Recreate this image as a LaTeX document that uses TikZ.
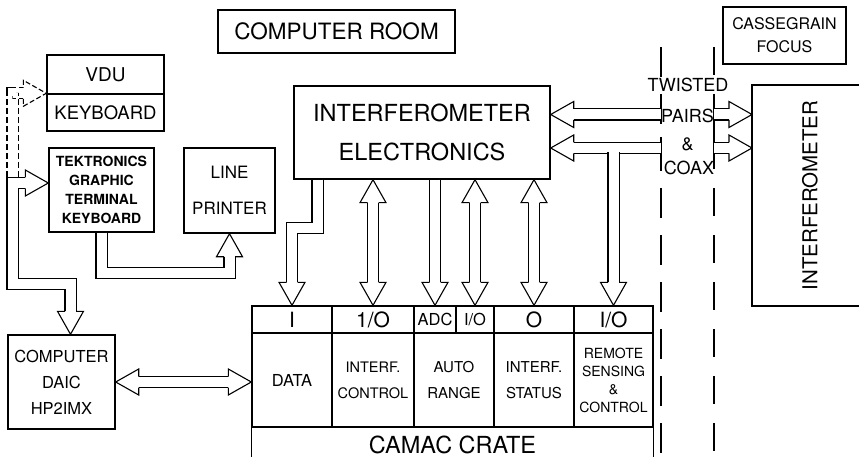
\documentclass[tikz,border=0pt]{standalone}
\usepackage{fontspec}
\setmainfont{TeX Gyre Heros}
\usetikzlibrary{calc}

\newcommand{\fsz}[2]{\fontsize{#1}{#2}\selectfont}

\tikzset{
  box/.style={draw, line width=1.4pt, inner sep=0pt, align=center},
  bus/.style={double, double distance=10pt, line width=1.1pt},
  wall/.style={line width=1.2pt, dash pattern=on 30pt off 17pt},
  pics/hd/.style={code={
    \draw[line width=1.1pt, fill=white] (-23,5.5) -- (-23,13) -- (0,0) -- (-23,-13) -- (-23,-5.5);}},
}

\begin{document}
\begin{tikzpicture}[x=1pt,y=-1pt]
\useasboundingbox (0,0) rectangle (859,457);

% ---------------- COMPUTER ROOM ----------------
\node[box, minimum width=237pt, minimum height=43pt, font=\fsz{22.5}{26}] (room) at (336.5,31.5) {COMPUTER ROOM};

\node[box, minimum width=117pt, minimum height=39pt, font=\fsz{19}{23}] (vdu) at (105.5,74.5) {VDU};
\node[box, minimum width=117pt, minimum height=37pt, font=\fsz{18.5}{22}] (kbd) at (105.5,112.5) {KEYBOARD};
\node[box, minimum width=105pt, minimum height=84pt, font=\bfseries\fsz{14}{19}] (tek) at (101.5,190) {TEKTRONICS\\GRAPHIC\\TERMINAL\\KEYBOARD};
\node[box, minimum width=91pt, minimum height=85pt, font=\fsz{17}{36}] (lp) at (229.5,190.5) {LINE\\PRINTER};
\node[box, minimum width=107pt, minimum height=94pt, font=\fsz{16.5}{26}] (comp) at (61.5,382) {COMPUTER\\DAIC\\HP2IMX};
\node[box, minimum width=256pt, minimum height=93pt, font=\fsz{23.5}{39}] (ie) at (422,132.5) {INTERFEROMETER\\ELECTRONICS};

% ---------------- CAMAC CRATE ----------------
% header row
\node[box, minimum width=80pt, minimum height=27pt, font=\fsz{21}{24}] (hI) at (292,319.5) {I};
\node[box, minimum width=82pt, minimum height=27pt, font=\fsz{21}{24}] (hIOa) at (373,319.5) {1/O};
\node[box, minimum width=42pt, minimum height=27pt, font=\fsz{16.5}{18}] (hADC) at (435,319.5) {ADC};
\node[box, minimum width=38pt, minimum height=27pt, font=\fsz{16.5}{18}] (hIOb) at (475,319.5) {I/O};
\node[box, minimum width=80pt, minimum height=27pt, font=\fsz{21}{24}] (hO) at (534,319.5) {O};
\node[box, minimum width=79pt, minimum height=27pt, font=\fsz{21}{24}] (hIOc) at (613.5,319.5) {I/O};

% module row
\node[box, minimum width=80pt, minimum height=94pt, font=\fsz{16.5}{20}] (bdata) at (292,380) {DATA};
\node[box, minimum width=82pt, minimum height=94pt, font=\fsz{14.5}{26}] (bctl) at (373,380) {INTERF.\\CONTROL};
\node[box, minimum width=80pt, minimum height=94pt, font=\fsz{15}{26}] (bauto) at (454,380) {AUTO\\RANGE};
\node[box, minimum width=80pt, minimum height=94pt, font=\fsz{15}{26}] (bstat) at (534,380) {INTERF.\\STATUS};
\node[box, minimum width=79pt, minimum height=94pt, font=\fsz{14}{18}] (brem) at (613.5,380) {REMOTE\\SENSING\\\&\\CONTROL};

\draw[line width=1.4pt] (bdata.south west) -- ++(0,30);
\draw[line width=1.4pt] (brem.south east) -- ++(0,30);
\node[font=\fsz{23.5}{28}] (crate) at (452.5,445) {CAMAC CRATE};

% ---------------- TELESCOPE SIDE ----------------
\node[box, minimum width=123pt, minimum height=57pt, font=\fsz{16}{23}] (cass) at (784.5,35.5) {CASSEGRAIN\\FOCUS};

\coordinate (intfnw) at (752,85);
\coordinate (intfsw) at (752,306);
\draw[line width=1.4pt] (859,85) -- (intfnw) -- (intfsw) -- (859,306);
\node[rotate=90, font=\fsz{20.5}{24}] (intf) at (810,195.5) {INTERFEROMETER};

% dashed walls
\draw[wall] (661,47) -- (661,457);
\draw[wall, dash pattern=on 28pt off 19pt] (714,47) -- (714,457);
\draw[line width=1.2pt] (661,137) -- (661,154);
\draw[line width=1.2pt] (714,97) -- (714,154);

\node[font=\fsz{18}{22}] (tw) at (688,85) {TWISTED};
\node[font=\fsz{18}{22}] (pairs) at (687.5,116) {PAIRS};
\node[font=\fsz{18}{22}] (amp) at (687.5,144) {\&};
\node[font=\fsz{18}{22}] (coax) at (689,168) {COAX};

% ---------------- CABLES TO THE INTERFEROMETER ----------------
\coordinate (pr) at (752,114.5);
\coordinate (cr) at (752,148);

\draw[bus] ($(ie.east |- pr)+(23,0)$) -- (661,114.5);
\draw[bus] (714,114.5) -- ($(pr)+(-23,0)$);
\draw[bus] ($(ie.east |- cr)+(23,0)$) -- (661,148);
\draw[bus] (714,148) -- ($(cr)+(-23,0)$);
\pic[rotate=180] at (ie.east |- pr) {hd};
\pic at (pr) {hd};
\pic[rotate=180] at (ie.east |- cr) {hd};
\pic at (cr) {hd};

% coax branch down to remote sensing
\draw[bus] ($(hIOc.north)+(0,-153)$) -- ($(hIOc.north)+(0,-23)$);
\fill[white] ($(hIOc.north)+(-4.9,-156)$) rectangle ($(hIOc.north)+(4.9,-150)$);
\pic[rotate=-90] at (hIOc.north) {hd};

% ---------------- ELECTRONICS TO CRATE ----------------
\draw[bus] ([xshift=-104.5pt]ie.south) |- ($(hI.north)+(0,-77.5)$) -- ($(hI.north)+(0,-23)$);
\pic[rotate=-90] at (hI.north) {hd};

\draw[bus] ($(ie.south -| hIOa.north)+(0,23)$) -- ($(hIOa.north)+(0,-23)$);
\pic[rotate=90] at (ie.south -| hIOa.north) {hd};
\pic[rotate=-90] at (hIOa.north) {hd};

\draw[bus] (ie.south -| hADC.north) -- ($(hADC.north)+(0,-23)$);
\pic[rotate=-90] at (hADC.north) {hd};

\draw[bus] ($(ie.south -| hIOb.north)+(0,23)$) -- ($(hIOb.north)+(0,-23)$);
\pic[rotate=90] at (ie.south -| hIOb.north) {hd};
\pic[rotate=-90] at (hIOb.north) {hd};

\draw[bus] ($(ie.south -| hO.north)+(0,23)$) -- ($(hO.north)+(0,-23)$);
\pic[rotate=90] at (ie.south -| hO.north) {hd};
\pic[rotate=-90] at (hO.north) {hd};

% ---------------- TERMINALS ----------------
\coordinate (tekin) at ($(tek.west)+(0,-7)$);
\coordinate (compin) at ($(comp.north)+(9,0)$);

% dashed link to the VDU
\draw[bus, dash pattern=on 6pt off 3pt] (12.5,177) |- ($(kbd.north west)+(-23,0)$);
\pic[dash pattern=on 5pt off 2.5pt] at (kbd.north west) {hd};

\draw[bus] ($(compin)+(0,-23)$) |- (12.5,284) |- ($(tekin)+(-23,0)$);
\pic[rotate=-90] at (compin) {hd};
\pic at (tekin) {hd};

\draw[bus] (tek.south) |- ($(lp.south)+(0,39)$) -- ($(lp.south)+(0,23)$);
\pic[rotate=90] at (lp.south) {hd};

\draw[bus] ($(comp.east)+(23,0)$) -- ($(comp.east -| bdata.west)+(-23,0)$);
\pic[rotate=180] at (comp.east) {hd};
\pic at (comp.east -| bdata.west) {hd};

\end{tikzpicture}
\end{document}
